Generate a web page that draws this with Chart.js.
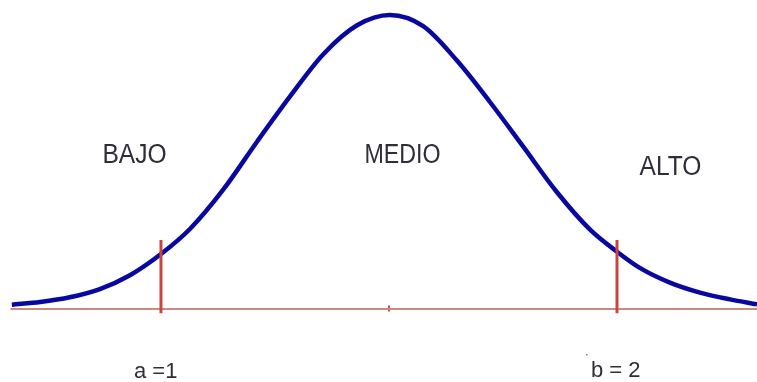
<!DOCTYPE html>
<html>
<head>
<meta charset="utf-8">
<script src="https://cdn.jsdelivr.net/npm/chart.js@4/dist/chart.umd.min.js"></script>
<style>
html,body{margin:0;padding:0;background:#fff;}
#wrap{width:757px;height:382px;}
</style>
</head>
<body>
<div id="wrap"><canvas id="c" width="757" height="382"></canvas></div>
<script>
// Curve: x in units where a = 1 and b = 2, y = % of peak height
const curveX = [0.673, 0.735, 0.800, 0.866, 0.932, 1.000, 1.064, 1.136, 1.211, 1.283, 1.355, 1.430, 1.502, 1.575, 1.649, 1.721, 1.794, 1.868, 1.941, 2.000, 2.050, 2.116, 2.182, 2.248, 2.307];
const curveY = [1.5, 2.4, 4.0, 6.8, 11.5, 18.7, 27.3, 40.5, 57.0, 72.3, 86.5, 96.5, 100, 96.2, 84.5, 70.5, 55.3, 39.8, 27.0, 19.5, 14.0, 9.0, 5.6, 3.3, 1.6];
const cutA = 1;
const cutB = 2;
const meanX = 1.5;
const axisStart = 0.67;
const axisEnd = 2.31;
const cutTop = 23.5;
const cutBottom = -1.4;
const regionLabels = ["BAJO", "MEDIO", "ALTO"];
const cutLabels = ["a =1", "b = 2"];

const curve = curveX.map((x, i) => ({x: x, y: curveY[i]}));

const textPlugin = {
  id: 'texts',
  afterDatasetsDraw(chart) {
    const ctx = chart.ctx;
    ctx.save();
    ctx.fillStyle = '#2e2e38';
    ctx.textBaseline = 'alphabetic';
    function txt(s, cx, base, size, sx) {
      ctx.save();
      ctx.font = size + 'px "Liberation Sans", Arial, sans-serif';
      ctx.translate(cx, base);
      ctx.scale(sx, 1);
      ctx.textAlign = 'center';
      ctx.fillText(s, 0, 0);
      ctx.restore();
    }
    txt(regionLabels[0], 134.5, 163, 27, 0.91);
    txt(regionLabels[1], 402.5, 163, 27, 0.86);
    txt(regionLabels[2], 670.5, 175, 27, 0.91);
    ctx.textAlign = 'left';
    ctx.font = '22px "Liberation Sans", Arial, sans-serif';
    ctx.fillText(cutLabels[0], 134, 378);
    ctx.fillText(cutLabels[1], 591, 377);
    ctx.fillStyle = '#888';
    ctx.fillRect(586, 354, 1.5, 1.5);
    ctx.restore();
  }
};

new Chart(document.getElementById('c'), {
  type: 'line',
  data: {
    datasets: [
      {
        data: [{x: axisStart, y: 0}, {x: axisEnd, y: 0}],
        borderColor: '#c98a82', borderWidth: 2, pointRadius: 0, tension: 0, order: 3
      },
      {
        data: [{x: meanX, y: 1.2}, {x: meanX, y: -0.8}],
        borderColor: '#c0504d', borderWidth: 2, pointRadius: 0, order: 3
      },
      {
        data: curve,
        borderColor: '#0808a0', borderWidth: 4.5, pointRadius: 0,
        cubicInterpolationMode: 'monotone', order: 2
      },
      {
        data: [{x: cutA, y: cutTop}, {x: cutA, y: cutBottom}],
        borderColor: '#c8463e', borderWidth: 3, pointRadius: 0, order: 1
      },
      {
        data: [{x: cutB, y: cutTop}, {x: cutB, y: cutBottom}],
        borderColor: '#c8463e', borderWidth: 3, pointRadius: 0, order: 1
      }
    ]
  },
  options: {
    responsive: false,
    animation: false,
    layout: {padding: 0},
    plugins: {legend: {display: false}, tooltip: {enabled: false}},
    scales: {
      x: {type: 'linear', min: 0.647, max: 2.307, display: false},
      y: {type: 'linear', min: -24.8, max: 105.1, display: false}
    }
  },
  plugins: [textPlugin]
});
</script>
</body>
</html>
